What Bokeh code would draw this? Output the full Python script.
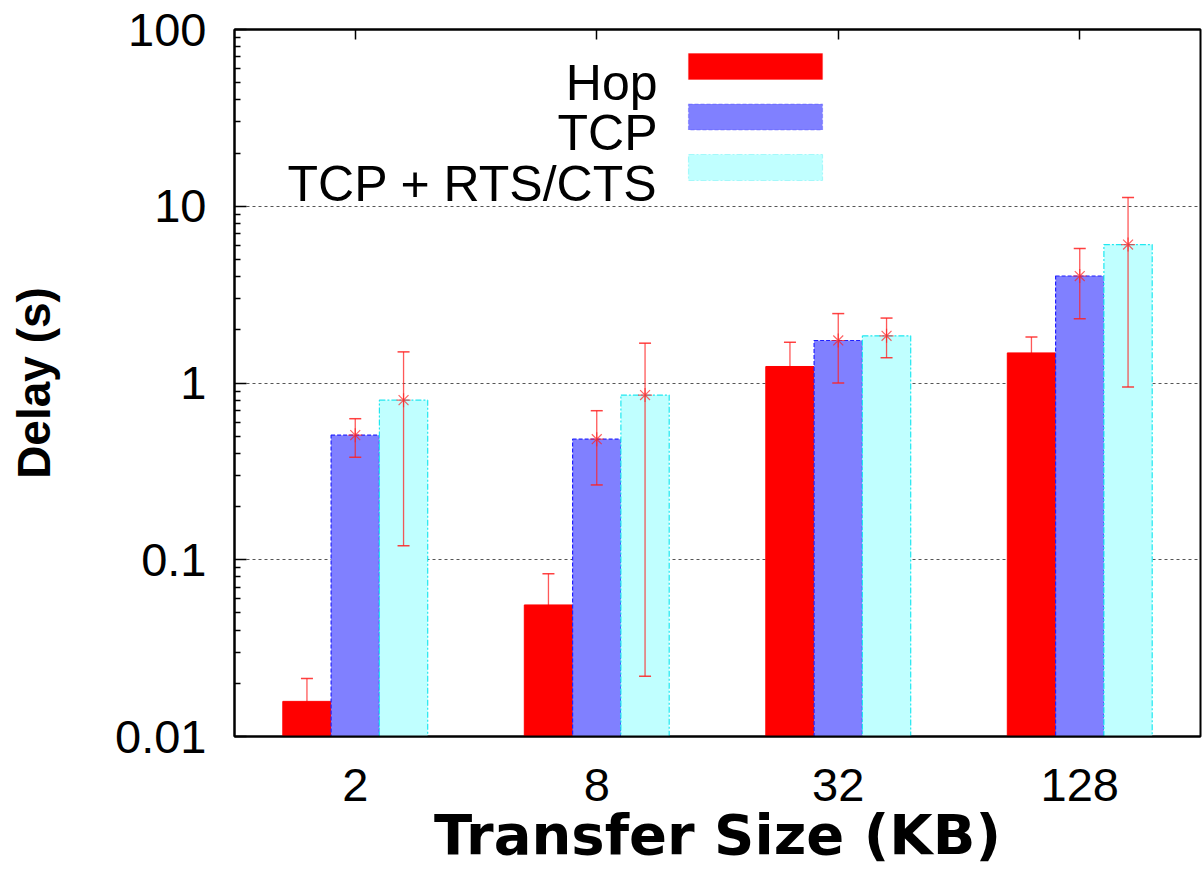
from bokeh.plotting import figure
from bokeh.models import (Range1d, FixedTicker, CustomJSTickFormatter, LinearAxis,
                          Label, BoxAnnotation)
from bokeh.embed import file_html
from bokeh.resources import INLINE

# ---------------- data ----------------
sizes = ["2", "8", "32", "128"]          # transfer size (KB)
series = ["Hop", "TCP", "TCP + RTS/CTS"]

hop = [0.0158, 0.0555, 1.24, 1.48]
hop_hi = [0.0213, 0.0834, 1.70, 1.82]
hop_lo = [0.0103, 0.0276, 0.78, 1.14]

tcp = [0.507, 0.481, 1.74, 4.03]
tcp_hi = [0.628, 0.697, 2.47, 5.77]
tcp_lo = [0.38, 0.265, 1.00, 2.31]

rts = [0.80, 0.855, 1.85, 6.07]
rts_hi = [1.50, 1.68, 2.33, 11.2]
rts_lo = [0.12, 0.0219, 1.39, 0.95]

y_decades = [0.01, 0.1, 1, 10, 100]

# ---------------- layout ----------------
W, H = 1203, 869
FL, FR, FT, FB = 234, 1200, 29, 736

p = figure(width=W, height=H, output_backend="svg", toolbar_location=None,
           y_axis_type="log", x_range=Range1d(-0.5, 3.5),
           y_range=Range1d(y_decades[0], y_decades[-1]),
           min_border_left=FL, min_border_right=W - FR,
           min_border_top=FT, min_border_bottom=H - FB)
p.background_fill_color = "white"
p.border_fill_color = "white"
p.outline_line_color = "black"
p.outline_line_width = 2

# grid
p.xgrid.visible = False
p.ygrid.ticker = FixedTicker(ticks=y_decades[1:-1])
p.ygrid.grid_line_color = "#555555"
p.ygrid.grid_line_dash = "3 3"
p.ygrid.grid_line_width = 1

# y axis
minor = [m * d for d in y_decades[:-1] for m in range(2, 10)]
ya = p.yaxis[0]
ya.ticker = FixedTicker(ticks=y_decades, minor_ticks=minor)
ya.formatter = CustomJSTickFormatter(code="return String(+tick.toPrecision(6));")
ya.major_tick_in = 12
ya.major_tick_out = 0
ya.minor_tick_in = 6
ya.minor_tick_out = 0
ya.major_tick_line_width = 1.5
ya.minor_tick_line_width = 1.5
ya.axis_line_width = 2
ya.major_label_text_font = "Liberation Sans"
ya.major_label_text_font_size = "47px"
ya.major_label_text_color = "black"
ya.major_label_standoff = 28
ya.axis_label = "Delay (s)"
ya.axis_label_text_font = "Liberation Sans"
ya.axis_label_text_font_style = "bold"
ya.axis_label_text_font_size = "46px"
ya.axis_label_text_color = "black"
ya.axis_label_standoff = 52

# x axis
idx = list(range(len(sizes)))
xa = p.xaxis[0]
xa.ticker = FixedTicker(ticks=idx)
xa.major_label_overrides = {i: s for i, s in zip(idx, sizes)}
xa.major_tick_in = 0
xa.major_tick_out = 0
xa.minor_tick_in = 0
xa.minor_tick_out = 0
xa.axis_line_width = 2
xa.major_label_text_font = "Liberation Sans"
xa.major_label_text_font_size = "47px"
xa.major_label_text_color = "black"
xa.major_label_standoff = 32
xa.axis_label = "Transfer Size (KB)"
xa.axis_label_text_font = "DejaVu Sans"
xa.axis_label_text_font_style = "bold"
xa.axis_label_text_font_size = "56px"
xa.axis_label_text_color = "black"
xa.axis_label_standoff = -2

top = LinearAxis(ticker=FixedTicker(ticks=idx), major_tick_in=10, major_tick_out=0,
                 minor_tick_in=0, minor_tick_out=0,
                 formatter=CustomJSTickFormatter(code="return '';"),
                 major_label_standoff=0, axis_line_width=2, major_tick_line_width=1.5)
p.add_layout(top, "above")

# ---------------- marks ----------------
bw = 0.2
xh = [i - bw for i in idx]
xt = [i for i in idx]
xr = [i + bw for i in idx]
floor = y_decades[0]
err_col = "#ff2020"

# Hop error bars first (lower half hidden behind the Hop bars)
p.segment(x0=xh, y0=hop_lo, x1=xh, y1=hop_hi, line_color=err_col, line_alpha=0.75, line_width=1.3)
p.scatter(x=xh, y=hop_hi, marker="dash", size=12, line_color=err_col, line_width=1.5, line_alpha=0.85)

p.vbar(x=xh, top=hop, bottom=floor, width=bw, fill_color="#ff0000", line_color="#ff0000", line_width=1)
p.vbar(x=xt, top=tcp, bottom=floor, width=bw, fill_color="#8080ff", line_color="#2020ff",
       line_dash="4 2", line_width=1.2)
p.vbar(x=xr, top=rts, bottom=floor, width=bw, fill_color="#c0ffff", line_color="#20e8f0",
       line_dash="6 2 2 2", line_width=1.2)

for xs, lo, hi, mid in ((xt, tcp_lo, tcp_hi, tcp), (xr, rts_lo, rts_hi, rts)):
    p.segment(x0=xs, y0=lo, x1=xs, y1=hi, line_color=err_col, line_alpha=0.75, line_width=1.3)
    p.scatter(x=xs, y=hi, marker="dash", size=12, line_color=err_col, line_width=1.5, line_alpha=0.85)
    p.scatter(x=xs, y=lo, marker="dash", size=12, line_color=err_col, line_width=1.5, line_alpha=0.85)
    p.scatter(x=xs, y=mid, marker="asterisk", size=14, line_color=err_col, line_width=1.2, line_alpha=0.7)

# ---------------- legend (text left, swatch right) ----------------
styles = [dict(fill_color="#ff0000", line_color="#ff0000", line_dash="solid"),
          dict(fill_color="#8080ff", line_color="#2020ff", line_dash="4 2"),
          dict(fill_color="#c0ffff", line_color="#20e8f0", line_dash="6 2 2 2")]
leg_text_right = 657           # page px
sw_l, sw_r = 688, 822          # page px
baselines = [82, 132.5, 183]   # page px (text baselines)
for name, st, bl in zip(series, styles, baselines):
    p.add_layout(Label(x=leg_text_right - FL, y=FB - bl, x_units="screen", y_units="screen",
                       text=name, text_align="right", text_baseline="alphabetic",
                       text_font="Liberation Sans", text_font_size="50px", text_color="black"))
    top_px, bot_px = bl - 29, bl - 3
    p.add_layout(BoxAnnotation(left=sw_l - FL, right=sw_r - FL, top=FB - top_px, bottom=FB - bot_px,
                               left_units="screen", right_units="screen",
                               top_units="screen", bottom_units="screen",
                               fill_color=st["fill_color"], fill_alpha=1.0,
                               line_color=st["line_color"], line_dash=st["line_dash"],
                               line_width=1.2))

open("out.html", "w").write(file_html(p, INLINE))
